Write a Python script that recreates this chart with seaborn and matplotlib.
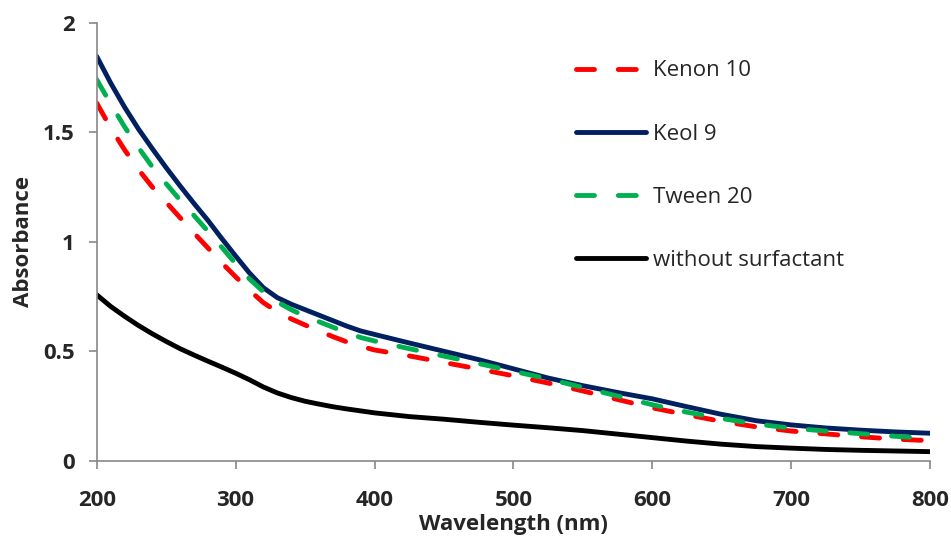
import matplotlib
matplotlib.use("Agg")
import matplotlib.pyplot as plt
import seaborn as sns
import pandas as pd
from matplotlib.lines import Line2D

wavelength = [200, 210, 220, 230, 240, 250, 260, 270, 280, 290, 300, 310, 320, 330, 340, 350,
              360, 370, 380, 390, 400, 425, 450, 475, 500, 525, 550, 575, 600, 625, 650, 675,
              700, 725, 750, 775, 800]
kenon10 = [1.633, 1.520, 1.420, 1.330, 1.250, 1.180, 1.110, 1.040, 0.972, 0.904, 0.840, 0.778,
           0.722, 0.680, 0.648, 0.620, 0.593, 0.567, 0.543, 0.523, 0.506, 0.479, 0.449, 0.419,
           0.388, 0.355, 0.319, 0.280, 0.242, 0.210, 0.180, 0.155, 0.136, 0.123, 0.110, 0.099, 0.092]
keol9 = [1.846, 1.725, 1.615, 1.515, 1.425, 1.338, 1.255, 1.175, 1.098, 1.015, 0.935, 0.857,
         0.790, 0.745, 0.715, 0.690, 0.665, 0.640, 0.615, 0.593, 0.577, 0.538, 0.500, 0.462,
         0.420, 0.378, 0.343, 0.312, 0.283, 0.247, 0.212, 0.183, 0.164, 0.150, 0.140, 0.132, 0.126]
tween20 = [1.740, 1.630, 1.525, 1.430, 1.342, 1.265, 1.190, 1.120, 1.048, 0.975, 0.900, 0.830,
           0.772, 0.725, 0.690, 0.660, 0.635, 0.610, 0.585, 0.563, 0.547, 0.512, 0.478, 0.444,
           0.409, 0.374, 0.335, 0.296, 0.256, 0.222, 0.193, 0.168, 0.149, 0.136, 0.124, 0.112, 0.102]
without = [0.758, 0.705, 0.660, 0.618, 0.580, 0.545, 0.512, 0.483, 0.455, 0.428, 0.400, 0.370,
           0.337, 0.310, 0.289, 0.272, 0.259, 0.247, 0.237, 0.228, 0.219, 0.202, 0.190, 0.176,
           0.163, 0.151, 0.138, 0.122, 0.106, 0.090, 0.076, 0.065, 0.058, 0.052, 0.048, 0.045, 0.042]

series_names = ["Kenon 10", "Keol 9", "Tween 20", "without surfactant"]
series_values = [kenon10, keol9, tween20, without]
colors = ["#FF0000", "#002060", "#00B050", "#000000"]
dashed = [True, False, True, False]

x_ticks = [200, 300, 400, 500, 600, 700, 800]
y_ticks = [0, 0.5, 1, 1.5, 2]
y_ticklabels = ["0", "0.5", "1", "1.5", "2"]

sns.set_style("white")
plt.rcParams["font.family"] = ["Open Sans", "DejaVu Sans"]

fig = plt.figure(figsize=(9.51, 5.39), dpi=100)
ax = fig.add_axes([0.1017, 0.145, 0.978 - 0.1017, 0.958 - 0.145])

lw = 3.5
dash_pattern = (0, (3.7, 4.9))
handles = []
for name, vals, col, d in zip(series_names, series_values, colors, dashed):
    df = pd.DataFrame({"Wavelength": wavelength, "Absorbance": vals})
    ls = dash_pattern if d else "-"
    sns.lineplot(data=df, x="Wavelength", y="Absorbance", ax=ax, color=col,
                 linewidth=lw, linestyle=ls, legend=False)
    line = ax.lines[-1]
    line.set_dash_capstyle("round")
    line.set_solid_capstyle("round")
    line.set_solid_joinstyle("round")
    handles.append(Line2D([0], [0], color=col, linewidth=lw, linestyle=ls,
                          dash_capstyle="round", solid_capstyle="round"))

ax.set_xlim(200, 800)
ax.set_ylim(0, 2)
ax.set_xticks(x_ticks)
ax.set_xticklabels([str(t) for t in x_ticks])
ax.set_yticks(y_ticks)
ax.set_yticklabels(y_ticklabels)

for s in ["top", "right"]:
    ax.spines[s].set_visible(False)
for s in ["left", "bottom"]:
    ax.spines[s].set_color("#888888")
    ax.spines[s].set_linewidth(1.2)

ax.tick_params(axis="both", which="major", direction="out", length=6, width=1.2,
               color="#888888", labelsize=16, left=True, bottom=True)
ax.tick_params(axis="y", pad=10)
ax.tick_params(axis="x", pad=15)
for lab in ax.get_xticklabels() + ax.get_yticklabels():
    lab.set_fontweight("bold")

ax.set_xlabel("Wavelength (nm)", fontsize=16, fontweight="bold", labelpad=2)
ax.set_ylabel("Absorbance", fontsize=16, fontweight="bold", labelpad=6)

leg = ax.legend(handles, series_names, loc="upper left",
                bbox_to_anchor=(0.5645, 0.934), frameon=False, fontsize=16,
                handlelength=3.15, handletextpad=0.3, labelspacing=1.9,
                borderaxespad=0)

fig.savefig("out.png", dpi=100)
